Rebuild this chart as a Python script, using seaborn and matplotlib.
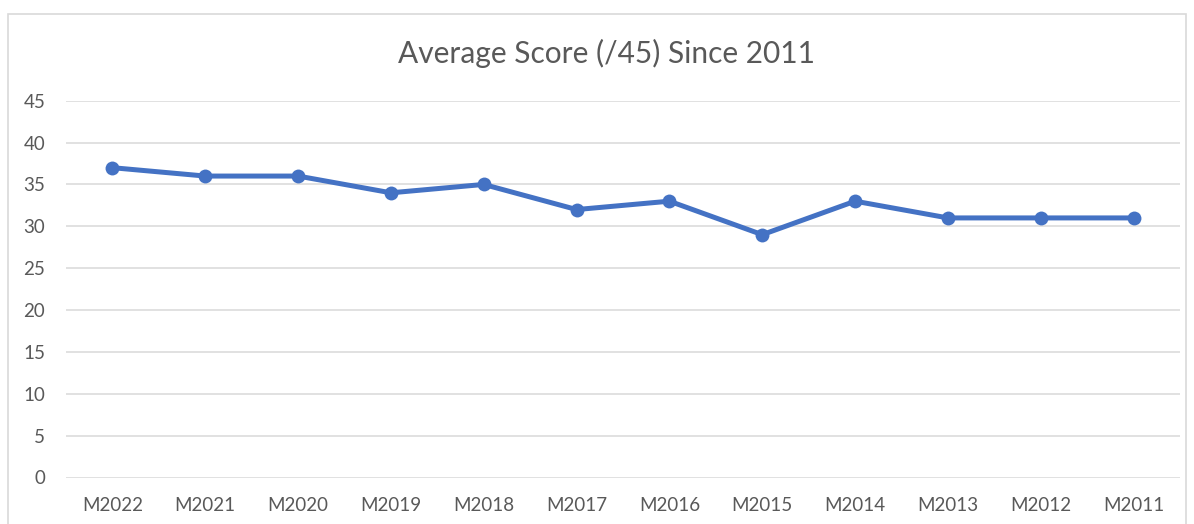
import pandas as pd
import matplotlib.pyplot as plt
import matplotlib.patches as patches
import seaborn as sns

# chart data
seasons = ["M2022", "M2021", "M2020", "M2019", "M2018", "M2017",
           "M2016", "M2015", "M2014", "M2013", "M2012", "M2011"]
avg_score = [37, 36, 36, 34, 35, 32, 33, 29, 33, 31, 31, 31]
y_ticks = [0, 5, 10, 15, 20, 25, 30, 35, 40, 45]

df = pd.DataFrame({"season": seasons, "score": avg_score})

sns.set_theme(style="white")
plt.rcParams["font.family"] = ["Lato", "DejaVu Sans"]

fig = plt.figure(figsize=(11.94, 5.24), dpi=100)
ax = fig.add_axes([66 / 1194, 1 - 477.5 / 524, 1114 / 1194, 376.8 / 524])

sns.lineplot(data=df, x="season", y="score", ax=ax, color="#4472C4",
             linewidth=3.6, marker="o", markersize=10, markeredgewidth=0,
             sort=False)

ax.set_xlim(-0.5, len(seasons) - 0.5)
ax.set_ylim(0, 45)
ax.set_yticks(y_ticks)
ax.yaxis.grid(True, color="#d9d9d9", linewidth=1.1)
ax.set_axisbelow(True)
for s in ax.spines.values():
    s.set_visible(False)
ax.tick_params(axis="both", length=0, labelsize=13.5, labelcolor="#595959")
ax.tick_params(axis="y", pad=15)
ax.tick_params(axis="x", pad=14)
ax.set_xlabel("")
ax.set_ylabel("")

fig.text(606 / 1194, 1 - 53 / 524, "Average Score (/45) Since 2011",
         ha="center", va="center", fontsize=21.5, color="#595959")

# outer chart border
fig.patches.append(patches.Rectangle((8 / 1194, -0.05), 1178 / 1194, 1.05 - 14 / 524,
                                     transform=fig.transFigure, fill=False,
                                     edgecolor="#d9d9d9", linewidth=1.2))

plt.savefig("out.png", dpi=100)
